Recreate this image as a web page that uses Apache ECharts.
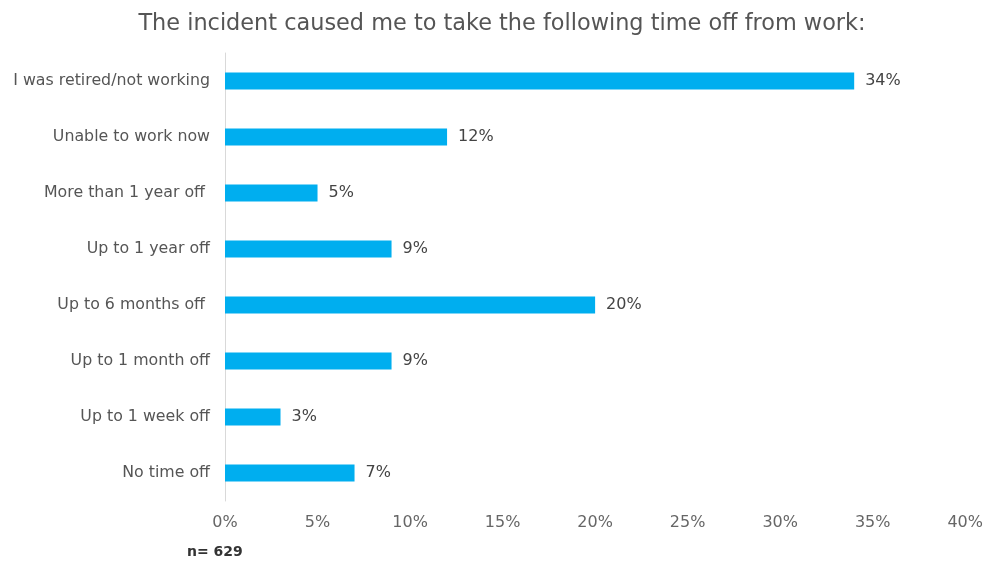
<!DOCTYPE html>
<html>
<head>
<meta charset="utf-8">
<script src="https://cdn.jsdelivr.net/npm/echarts@6/dist/echarts.min.js"></script>
<style>
  html, body { margin: 0; padding: 0; background: #fff; }
  #chart { width: 986px; height: 561px; }
</style>
</head>
<body>
<div id="chart"></div>
<script>
// Response categories, top to bottom
const categories = [
  "I was retired/not working",
  "Unable to work now",
  "More than 1 year off ",
  "Up to 1 year off",
  "Up to 6 months off ",
  "Up to 1 month off",
  "Up to 1 week off",
  "No time off"
];
// Share of respondents (%)
const shares = [34, 12, 5, 9, 20, 9, 3, 7];
const titleText = "The incident caused me to take the following time off from work:";
const sampleNote = "n= 629";

const FONT = "'DejaVu Sans', 'Open Sans', sans-serif";

const chart = echarts.init(document.getElementById("chart"), null, { renderer: "canvas" });
chart.setOption({
  animation: false,
  backgroundColor: "#ffffff",
  title: {
    text: titleText,
    left: 497,
    textAlign: "center",
    top: 8,
    textStyle: { fontFamily: FONT, fontSize: 22.4, fontWeight: "normal", color: "#555555" }
  },
  graphic: [{
    type: "text",
    left: 187,
    top: 545,
    style: { text: sampleNote, fontFamily: FONT, fontSize: 14, fontWeight: "bold", fill: "#333333" }
  }],
  grid: { left: 225, right: 20, top: 53, height: 448, containLabel: false },
  xAxis: {
    type: "value",
    min: 0,
    max: 40,
    interval: 5,
    axisLine: { show: false },
    axisTick: { show: false },
    splitLine: { show: false },
    axisLabel: {
      formatter: "{value}%",
      margin: 14,
      fontFamily: FONT,
      fontSize: 16,
      color: "#666666"
    }
  },
  yAxis: {
    type: "category",
    inverse: true,
    data: categories,
    axisLine: { show: true, lineStyle: { color: "#d9d9d9", width: 1 } },
    axisTick: { show: false },
    axisLabel: {
      margin: 15,
      fontFamily: FONT,
      fontSize: 15.8,
      color: "#555555"
    }
  },
  series: [{
    type: "bar",
    data: shares,
    barWidth: 17,
    itemStyle: { color: "#00aeef" },
    label: {
      show: true,
      position: "right",
      distance: 11,
      formatter: "{c}%",
      fontFamily: FONT,
      fontSize: 16,
      color: "#444444"
    }
  }]
});
</script>
</body>
</html>
